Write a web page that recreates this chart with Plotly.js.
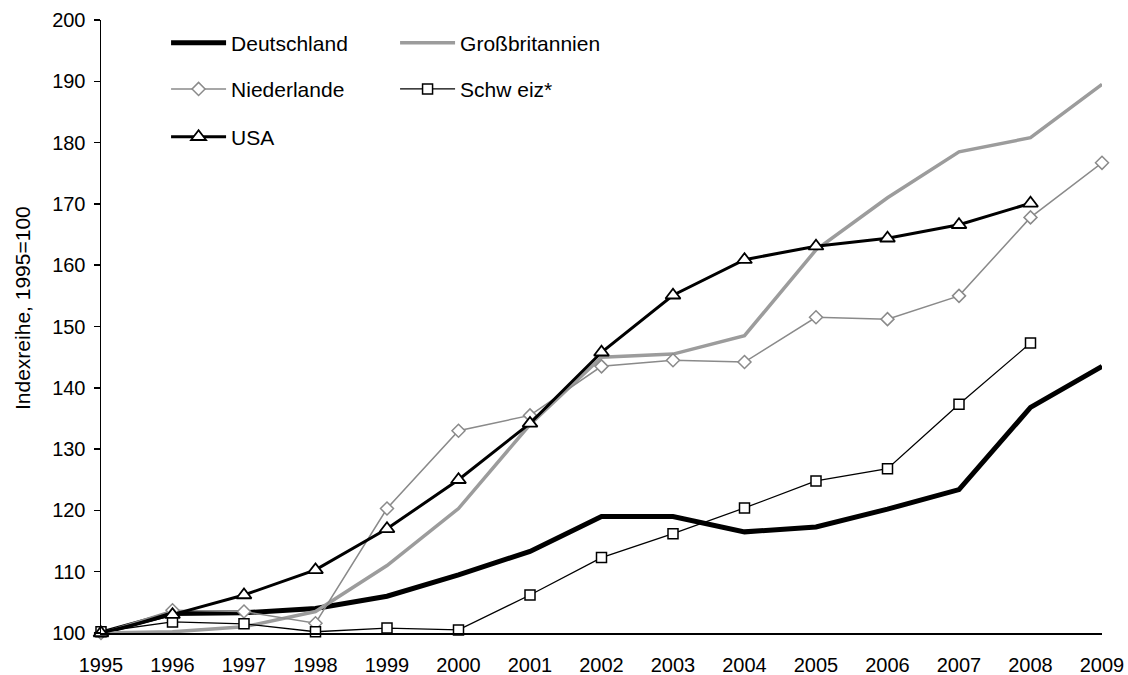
<!DOCTYPE html>
<html>
<head>
<meta charset="utf-8">
<script src="https://cdn.plot.ly/plotly-3.0.1.min.js"></script>
<style>html,body{margin:0;padding:0;background:#fff}#chart{width:1128px;height:675px}</style>
</head>
<body>
<div id="chart"></div>
<script>
const years = [1995,1996,1997,1998,1999,2000,2001,2002,2003,2004,2005,2006,2007,2008,2009];
const deutschland = [100,103.2,103.3,104,106,109.5,113.3,119,119,116.5,117.3,120.2,123.4,136.8,143.5];
const grossbritannien = [100,100.2,101,103.5,111,120.3,134,145,145.5,148.5,162.5,171,178.5,180.8,189.5];
const niederlande = [100,103.7,103.5,101.6,120.3,133,135.5,143.5,144.5,144.2,151.5,151.2,155,167.8,176.7];
const schweiz = [100.2,101.8,101.5,100.2,100.8,100.5,106.2,112.3,116.2,120.4,124.8,126.8,137.3,147.3,null];
const usa = [100,103,106.2,110.3,117,125,134.2,145.8,155.1,160.9,163.1,164.4,166.6,170.1,null];
const names = ['Deutschland','Großbritannien','Niederlande','Schw eiz*','USA'];
const yTitle = 'Indexreihe, 1995=100';

const traces = [
  {x: years, y: deutschland, name: names[0], mode: 'lines', line: {color: '#000', width: 5}, legend: 'legend', cliponaxis: false},
  {x: years, y: grossbritannien, name: names[1], mode: 'lines', line: {color: '#9c9c9c', width: 3.5}, legend: 'legend', cliponaxis: false},
  {x: years, y: niederlande, name: names[2], mode: 'lines+markers', line: {color: '#8a8a8a', width: 1.5},
   marker: {symbol: 'diamond', size: 10, color: '#fff', line: {color: '#8a8a8a', width: 1.5}}, legend: 'legend2', cliponaxis: false},
  {x: years, y: schweiz, name: names[3], mode: 'lines+markers', line: {color: '#000', width: 1.3},
   marker: {symbol: 'square', size: 10, color: '#fff', line: {color: '#000', width: 1.5}}, legend: 'legend2', cliponaxis: false},
  {x: years, y: usa, name: names[4], mode: 'lines+markers', line: {color: '#000', width: 3},
   marker: {symbol: 'triangle-up', size: 13, color: '#fff', line: {color: '#000', width: 1.8}}, legend: 'legend3', cliponaxis: false}
];

const FONT = 'Liberation Sans, Arial, sans-serif';
const legFont = {family: FONT, size: 21, color: '#000'};
const legBase = {orientation: 'h', xanchor: 'left', yanchor: 'middle', x: 0.065, entrywidth: 159, entrywidthmode: 'pixels',
  font: legFont, bgcolor: 'rgba(0,0,0,0)', itemwidth: 55, traceorder: 'normal'};

const layout = {
  width: 1128, height: 675,
  margin: {l: 101, r: 26, t: 20, b: 42},
  paper_bgcolor: '#fff', plot_bgcolor: '#fff',
  font: {family: FONT, size: 20, color: '#000'},
  xaxis: {range: [1995, 2009], tickvals: years, ticktext: years.map(String), showgrid: false, zeroline: false,
    showline: true, linecolor: '#000', linewidth: 1.5, ticks: '', ticklabelstandoff: 13, tickfont: {size: 20},
    automargin: false, fixedrange: true},
  yaxis: {range: [100, 200], dtick: 10, showgrid: false, zeroline: false, showline: true, linecolor: '#000', linewidth: 1.5,
    ticks: 'outside', ticklen: 6, tickcolor: '#000', tickwidth: 1.5, tickfont: {size: 20}, ticklabelstandoff: 4,
    automargin: false, fixedrange: true},
  annotations: [{text: yTitle, xref: 'paper', yref: 'paper', x: (22 - 101) / 1001, y: (633 - 308) / 613,
    xanchor: 'center', yanchor: 'middle', textangle: -90, showarrow: false, font: {family: FONT, size: 21, color: '#000'}}],
  showlegend: true,
  legend: Object.assign({}, legBase, {y: 0.9625}),
  legend2: Object.assign({}, legBase, {y: 0.887}),
  legend3: Object.assign({}, legBase, {y: 0.809})
};

Plotly.newPlot('chart', traces, layout, {displayModeBar: false, staticPlot: true});
</script>
</body>
</html>
